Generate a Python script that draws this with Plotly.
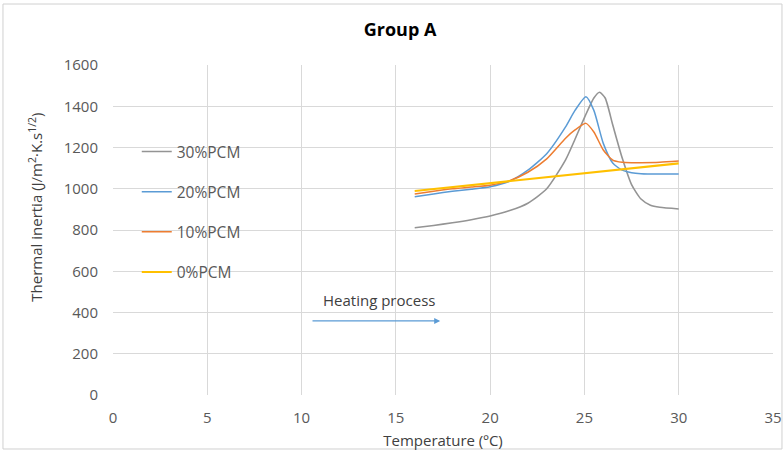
import plotly.graph_objects as go

# Data
temp_30 = [16, 17, 18, 19, 20, 21, 22, 23, 24, 24.5, 25, 25.5, 25.8, 26.1, 26.5, 27, 27.5, 28, 28.5, 29, 30]
val_30 = [811, 822, 835, 850, 868, 893, 930, 1000, 1140, 1240, 1345, 1440, 1468, 1440, 1310, 1150, 1020, 950, 920, 910, 902]

temp_20 = [16, 17, 18, 19, 20, 21, 22, 23, 24, 24.5, 25.08, 25.5, 26, 26.5, 27, 27.5, 28, 29, 30]
val_20 = [961, 975, 988, 998, 1010, 1035, 1090, 1170, 1300, 1380, 1446, 1380, 1220, 1125, 1090, 1078, 1073, 1071, 1071]

temp_10 = [16, 17, 18, 19, 20, 21, 22, 23, 24, 24.5, 25.08, 25.5, 26, 26.5, 27, 27.5, 28, 29, 30]
val_10 = [975, 988, 1000, 1008, 1017, 1038, 1080, 1145, 1245, 1285, 1317, 1275, 1188, 1139, 1128, 1126, 1126, 1128, 1134]

temp_0 = [16, 30]
val_0 = [989, 1123]

series_names = ["30%PCM", "20%PCM", "10%PCM", "0%PCM"]
x_ticks = [0, 5, 10, 15, 20, 25, 30, 35]
y_ticks = [0, 200, 400, 600, 800, 1000, 1200, 1400, 1600]

FONT = "Open Sans"

fig = go.Figure()
series = [
    (temp_30, val_30, "#949494", 1.6),
    (temp_20, val_20, "#5B9BD5", 1.5),
    (temp_10, val_10, "#ED7D31", 1.5),
    (temp_0, val_0, "#FFC000", 2.2),
]
for name, (xs, ys, col, w) in zip(series_names, series):
    fig.add_trace(go.Scatter(
        x=xs, y=ys, name=name, mode="lines",
        line=dict(color=col, width=w, shape="spline", smoothing=0.6),
        legendgroup=name,
    ))

fig.add_annotation(
    x=17.35, y=359, ax=10.5, ay=359, xref="x", yref="y", axref="x", ayref="y",
    showarrow=True, arrowhead=2, arrowsize=1, arrowwidth=1.2, arrowcolor="#5B9BD5", text="",
)
fig.add_annotation(
    x=14.1, y=460, xref="x", yref="y", text="Heating process", showarrow=False,
    font=dict(family=FONT, size=15, color="#404040"),
)
# y-axis title
fig.add_annotation(
    x=-0.117, y=0.57, xref="paper", yref="paper", textangle=-90, showarrow=False,
    xanchor="center", yanchor="middle",
    text="Thermal inertia (J/m<sup>2</sup>·K.s<sup>1/2</sup>)",
    font=dict(family=FONT, size=15, color="#404040"),
)

fig.add_shape(type="rect", xref="paper", yref="paper",
              x0=-0.1667, x1=1.0136, y0=-0.1636, y1=1.1848,
              line=dict(color="#d0d0d0", width=1), layer="below")

fig.update_layout(
    width=783, height=452,
    margin=dict(l=113, r=10, t=65, b=57, autoexpand=False),
    paper_bgcolor="white", plot_bgcolor="white",
    title=dict(text="<b>Group A</b>", x=0.511, xanchor="center", y=0.935, yanchor="middle",
               font=dict(family=FONT, size=18, color="#000000")),
    font=dict(family=FONT, size=15, color="#595959"),
    legend=dict(x=0.036, y=0.788, xanchor="left", yanchor="top",
                bgcolor="rgba(0,0,0,0)", tracegroupgap=17,
                font=dict(family=FONT, size=15.5, color="#595959")),
    xaxis=dict(range=[0, 35], tickvals=x_ticks, showgrid=True, gridcolor="#d9d9d9",
               zeroline=False, showline=False, ticks="", automargin=False,
               ticklabelstandoff=12,
               title=dict(text="Temperature (ºC)", font=dict(family=FONT, size=15, color="#404040"), standoff=9)),
    yaxis=dict(range=[0, 1600], tickvals=y_ticks, showgrid=True, gridcolor="#d9d9d9",
               zeroline=False, showline=False, ticks="", automargin=False,
               ticklabelstandoff=14),
)

fig.write_html("out.html")
